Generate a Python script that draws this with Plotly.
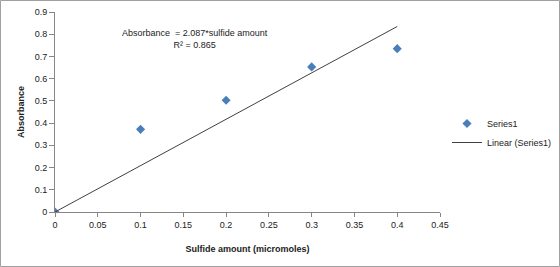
import plotly.graph_objects as go

# Data
sulfide = [0, 0.1, 0.2, 0.3, 0.4]
absorbance = [0, 0.372, 0.503, 0.653, 0.735]
slope = 2.087
r2 = 0.865
trend_x = [0, 0.4]
trend_y = [slope * v for v in trend_x]
x_ticks = [0, 0.05, 0.1, 0.15, 0.2, 0.25, 0.3, 0.35, 0.4, 0.45]
y_ticks = [0, 0.1, 0.2, 0.3, 0.4, 0.5, 0.6, 0.7, 0.8, 0.9]

W, H = 560, 267
L, R, T, B = 55, 120, 12, 55
pw, ph = W - L - R, H - T - B

FONT = "Liberation Sans"
fig = go.Figure()
fig.add_trace(go.Scatter(
    x=sulfide, y=absorbance, mode="markers", name="Series1",
    marker=dict(symbol="diamond", size=7, color="#4a7ebb"),
))
fig.add_trace(go.Scatter(
    x=trend_x, y=trend_y, mode="lines", name="Linear (Series1)",
    line=dict(color="#404040", width=1),
))

fig.update_layout(
    width=W, height=H,
    margin=dict(l=L, r=R, t=T, b=B, autoexpand=False),
    paper_bgcolor="white", plot_bgcolor="white",
    font=dict(family=FONT, size=9, color="#222"),
    showlegend=True,
    legend=dict(xref="container", yref="container", x=447 / W, y=1 - 109 / H,
                xanchor="left", yanchor="top",
                font=dict(size=9), bgcolor="rgba(0,0,0,0)", tracegroupgap=3,
                itemwidth=30),
    xaxis=dict(range=[0, 0.45], tickvals=x_ticks,
               ticktext=[("%g" % v) for v in x_ticks],
               showgrid=False, zeroline=False, showline=True, linecolor="#868686",
               linewidth=1, ticks="outside", ticklen=4, tickcolor="#868686",
               title=dict(text="<b>Sulfide amount (micromoles)</b>", font=dict(size=9), standoff=16)),
    yaxis=dict(range=[0, 0.9], tickvals=y_ticks,
               ticktext=[("%g" % v) for v in y_ticks],
               showgrid=False, zeroline=False, showline=True, linecolor="#868686",
               linewidth=1, ticks="outside", ticklen=5, tickcolor="#868686",
               title=dict(text="<b>Absorbance</b>", font=dict(size=9), standoff=8)),
    annotations=[
        dict(x=0.1636, y=0.777, xref="x", yref="y", showarrow=False,
             text="Absorbance  = %.3f*sulfide amount<br>R\u00b2 = %.3f" % (slope, r2),
             font=dict(size=9), align="center"),
    ],
    shapes=[dict(type="rect", xref="paper", yref="paper",
                 x0=-(L - 0.5) / pw, x1=(W - L - 0.5) / pw,
                 y0=-(B - 0.5) / ph, y1=1 + (T - 0.5) / ph,
                 line=dict(color="#a0a0a0", width=1), layer="below")],
)
fig.write_html("out.html")
